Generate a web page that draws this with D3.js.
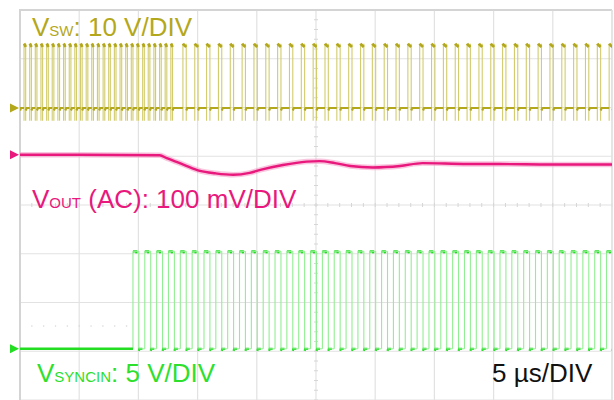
<!DOCTYPE html>
<html>
<head>
<meta charset="utf-8">
<script src="https://cdn.jsdelivr.net/npm/d3@7"></script>
<style>
  body { margin: 0; background: #fff; }
  svg { display: block; font-family: "Liberation Sans", Arial, sans-serif; }
</style>
</head>
<body>
<div id="scope"></div>
<script>
// time in µs, 5 µs/div, 10 divisions
const timeRange = [0, 50];

// VSW: rising edges (µs), free running before sync locks, then 1 MHz
const vswRiseFree = [0.34, 0.82, 1.29, 1.77, 2.25, 2.72, 3.20, 3.68, 4.16, 4.63, 5.11, 5.59, 6.06,
  6.54, 7.02, 7.49, 7.97, 8.45, 8.93, 9.40, 9.88, 10.36, 10.83, 11.31, 11.79, 12.26, 12.74];
const vswRiseSync = [13.76, 14.76, 15.76, 16.76, 17.76, 18.76, 19.76, 20.76, 21.76, 22.76, 23.76,
  24.76, 25.76, 26.76, 27.76, 28.76, 29.76, 30.76, 31.76, 32.76, 33.76, 34.76, 35.76, 36.76,
  37.76, 38.76, 39.76, 40.76, 41.76, 42.76, 43.76, 44.76, 45.76, 46.76, 47.76, 48.76, 49.76];
const vswOnFree = 0.14, vswOnSync = 0.28;
const vswLevels = {low: 0, high: 12.3, peak: 13.2, under: -2.6}; // V

// VOUT (AC), mV
const voutT  = [0, 5, 11.8, 12.4, 13.8, 15.2, 16.5, 18.0, 19.4, 20.3, 22.2, 24.2, 25.3, 26.6, 27.9, 29.8, 32.1, 34.0, 37.8, 40.5, 44.8, 50];
const voutMv = [0, 0, -1, -7, -20, -33, -38, -41, -37, -31, -21, -14, -13, -17, -23, -26, -23, -17, -19, -19, -20, -20];

// SYNCIN: rising edges (µs), 1 MHz, 50 % duty
const syncRise = [9.54, 10.54, 11.54, 12.54, 13.54, 14.54, 15.54, 16.54, 17.54, 18.54, 19.54,
  20.54, 21.54, 22.54, 23.54, 24.54, 25.54, 26.54, 27.54, 28.54, 29.54, 30.54, 31.54, 32.54,
  33.54, 34.54, 35.54, 36.54, 37.54, 38.54, 39.54, 40.54, 41.54, 42.54, 43.54, 44.54, 45.54,
  46.54, 47.54, 48.54, 49.54];
const syncOn = 0.5;
const syncLevels = {low: 0, high: 10}; // V

// channel setup: volts per division and ground offset in divisions
const channels = {
  vsw:  {perDiv: 10,  offset: 1.99,  color: "#b3a81c", edge: "#d2cc6c"},
  vout: {perDiv: 100, offset: 1.03,  color: "#e8187c"},
  sync: {perDiv: 5,   offset: -2.95, color: "#22dd22", edge: "#92ee92"}
};

const W = 614, H = 400;
const svg = d3.create("svg").attr("width", W).attr("height", H);

const x = d3.scaleLinear().domain(timeRange).range([20, 612]);
const yDiv = d3.scaleLinear().domain([4, -4]).range([10, 400]);
const yOf = ch => v => yDiv(channels[ch].offset + v / channels[ch].perDiv);

svg.append("defs").append("clipPath").attr("id", "clip")
  .append("rect").attr("x", 20).attr("y", 10).attr("width", 592).attr("height", 390);

// grid
const grid = svg.append("g");
grid.selectAll("line.v").data(d3.range(0, 51, 5)).join("line")
  .attr("x1", d => x(d)).attr("x2", d => x(d)).attr("y1", 10).attr("y2", 400)
  .attr("stroke", "#e2e2e2").attr("stroke-width", 1.2);
grid.selectAll("line.h").data(d3.range(-4, 5)).join("line")
  .attr("y1", d => yDiv(d)).attr("y2", d => yDiv(d)).attr("x1", 20).attr("x2", 612)
  .attr("stroke", "#e2e2e2").attr("stroke-width", 1.2);
// minor ticks on centre axes
grid.selectAll("line.tx").data(d3.range(0, 50.01, 1)).join("line")
  .attr("x1", d => x(d)).attr("x2", d => x(d)).attr("y1", yDiv(0) - 2).attr("y2", yDiv(0) + 2)
  .attr("stroke", "#d6d6d6");
grid.selectAll("line.ty").data(d3.range(-4, 4.01, 0.2)).join("line")
  .attr("y1", d => yDiv(d)).attr("y2", d => yDiv(d)).attr("x1", x(25) - 2).attr("x2", x(25) + 2)
  .attr("stroke", "#d6d6d6");
// faint dots
grid.selectAll("circle").data(d3.range(1, 10)).join("circle")
  .attr("cx", d => x(d)).attr("cy", 326).attr("r", 0.8).attr("fill", "#d8d8d8");
// border
svg.append("path")
  .attr("d", "M612,10H20V400")
  .attr("fill", "none").attr("stroke", "#d4d4d4").attr("stroke-width", 2);
svg.append("line").attr("x1", 612).attr("x2", 612).attr("y1", 10).attr("y2", 400)
  .attr("stroke", "#e2e2e2").attr("stroke-width", 1.5);

const plot = svg.append("g").attr("clip-path", "url(#clip)");
const line = d3.line().x(d => x(d[0])).y(d => d[1]);

// ---- VSW ----
{
  const y = yOf("vsw"), c = channels.vsw;
  const pulses = vswRiseFree.map(t => [t, t + vswOnFree]).concat(vswRiseSync.map(t => [t, t + vswOnSync]));
  const g = plot.append("g");
  // edges
  g.selectAll("line").data(pulses.flat()).join("line")
    .attr("x1", d => x(d)).attr("x2", d => x(d))
    .attr("y1", y(vswLevels.peak)).attr("y2", y(vswLevels.under))
    .attr("stroke", c.edge).attr("stroke-width", 1.1);
  // low level
  const lows = [[0, pulses[0][0]]].concat(pulses.map((p, i) => [p[1], i + 1 < pulses.length ? pulses[i + 1][0] : 50]));
  g.selectAll("path.low").data(lows).join("path")
    .attr("d", d => line([[d[0], y(vswLevels.low) + 2.5], [d[0] + 0.08, y(vswLevels.low)], [d[1], y(vswLevels.low)]]))
    .attr("fill", "none").attr("stroke", c.color).attr("stroke-width", 2.2);
  // high level with overshoot hook
  g.selectAll("path.high").data(pulses).join("path")
    .attr("d", d => line([[d[0], y(vswLevels.peak)], [d[0] + 0.06, y(vswLevels.peak) + 1], [d[1], y(vswLevels.high) - 1]]))
    .attr("fill", "none").attr("stroke", c.color).attr("stroke-width", 2.8);
}

// ---- SYNCIN ----
{
  const y = yOf("sync"), c = channels.sync;
  const pulses = syncRise.map(t => [t, t + syncOn]);
  const g = plot.append("g");
  g.selectAll("line").data(pulses.flat()).join("line")
    .attr("x1", d => x(d)).attr("x2", d => x(d))
    .attr("y1", y(syncLevels.high)).attr("y2", y(syncLevels.low))
    .attr("stroke", c.edge).attr("stroke-width", 1.1);
  // long low before first pulse
  g.append("path").attr("d", line([[0, y(syncLevels.low)], [pulses[0][0], y(syncLevels.low)]]))
    .attr("stroke", c.color).attr("stroke-width", 2.6);
  const lows = pulses.map((p, i) => [p[1], i + 1 < pulses.length ? pulses[i + 1][0] : 50]);
  g.selectAll("path.low").data(lows).join("path")
    .attr("d", d => line([[d[0], y(syncLevels.low) + 2], [d[0] + 0.05, y(syncLevels.low)], [d[0] + 0.3, y(syncLevels.low)]]))
    .attr("fill", "none").attr("stroke", c.color).attr("stroke-width", 2.2);
  g.selectAll("path.lowt").data(lows).join("path")
    .attr("d", d => line([[d[0], y(syncLevels.low)], [d[1], y(syncLevels.low)]]))
    .attr("fill", "none").attr("stroke", c.edge).attr("stroke-width", 1);
  g.selectAll("path.high").data(pulses).join("path")
    .attr("d", d => line([[d[0], y(syncLevels.high)], [d[0] + 0.28, y(syncLevels.high)], [d[0] + 0.3, y(syncLevels.high) + 2]]))
    .attr("fill", "none").attr("stroke", c.color).attr("stroke-width", 2.2);
  g.selectAll("path.hight").data(pulses).join("path")
    .attr("d", d => line([[d[0], y(syncLevels.high)], [d[1], y(syncLevels.high)]]))
    .attr("fill", "none").attr("stroke", c.edge).attr("stroke-width", 1);
}

// ---- VOUT ----
{
  const y = yOf("vout"), c = channels.vout;
  const pts = voutT.map((t, i) => [t, y(voutMv[i])]);
  const curve = d3.line().x(d => x(d[0])).y(d => d[1]).curve(d3.curveMonotoneX);
  plot.append("path").attr("d", curve(pts)).attr("fill", "none")
    .attr("stroke", "#f4a0c8").attr("stroke-width", 5.5).attr("stroke-opacity", 0.6);
  plot.append("path").attr("d", curve(pts)).attr("fill", "none")
    .attr("stroke", c.color).attr("stroke-width", 2.4);
}

// ground markers
const markers = [["vsw", 0], ["vout", 0], ["sync", 0]];
svg.selectAll("path.marker").data(markers).join("path")
  .attr("d", d => { const yy = yOf(d[0])(d[1]); return `M10,${yy - 4.5}L19,${yy}L10,${yy + 4.5}Z`; })
  .attr("fill", d => channels[d[0]].color);

// labels
const labels = [
  {main: "V", sub: "SW", rest: ": 10 V/DIV", x: 32, y: 36, color: "#b3a81c"},
  {main: "V", sub: "OUT", rest: " (AC): 100 mV/DIV", x: 32, y: 208, color: "#e8187c"},
  {main: "V", sub: "SYNCIN", rest: ": 5 V/DIV", x: 37, y: 382, color: "#2ee02e"}
];
labels.forEach(l => {
  const t = svg.append("text").attr("x", l.x).attr("y", l.y).attr("fill", l.color).attr("font-size", 26);
  t.append("tspan").text(l.main);
  t.append("tspan").attr("font-size", 15).text(l.sub);
  t.append("tspan").text(l.rest);
});
svg.append("text").attr("x", 492).attr("y", 382).attr("font-size", 26).attr("fill", "#111")
  .text("5 µs/DIV");

document.getElementById("scope").appendChild(svg.node());
</script>
</body>
</html>
